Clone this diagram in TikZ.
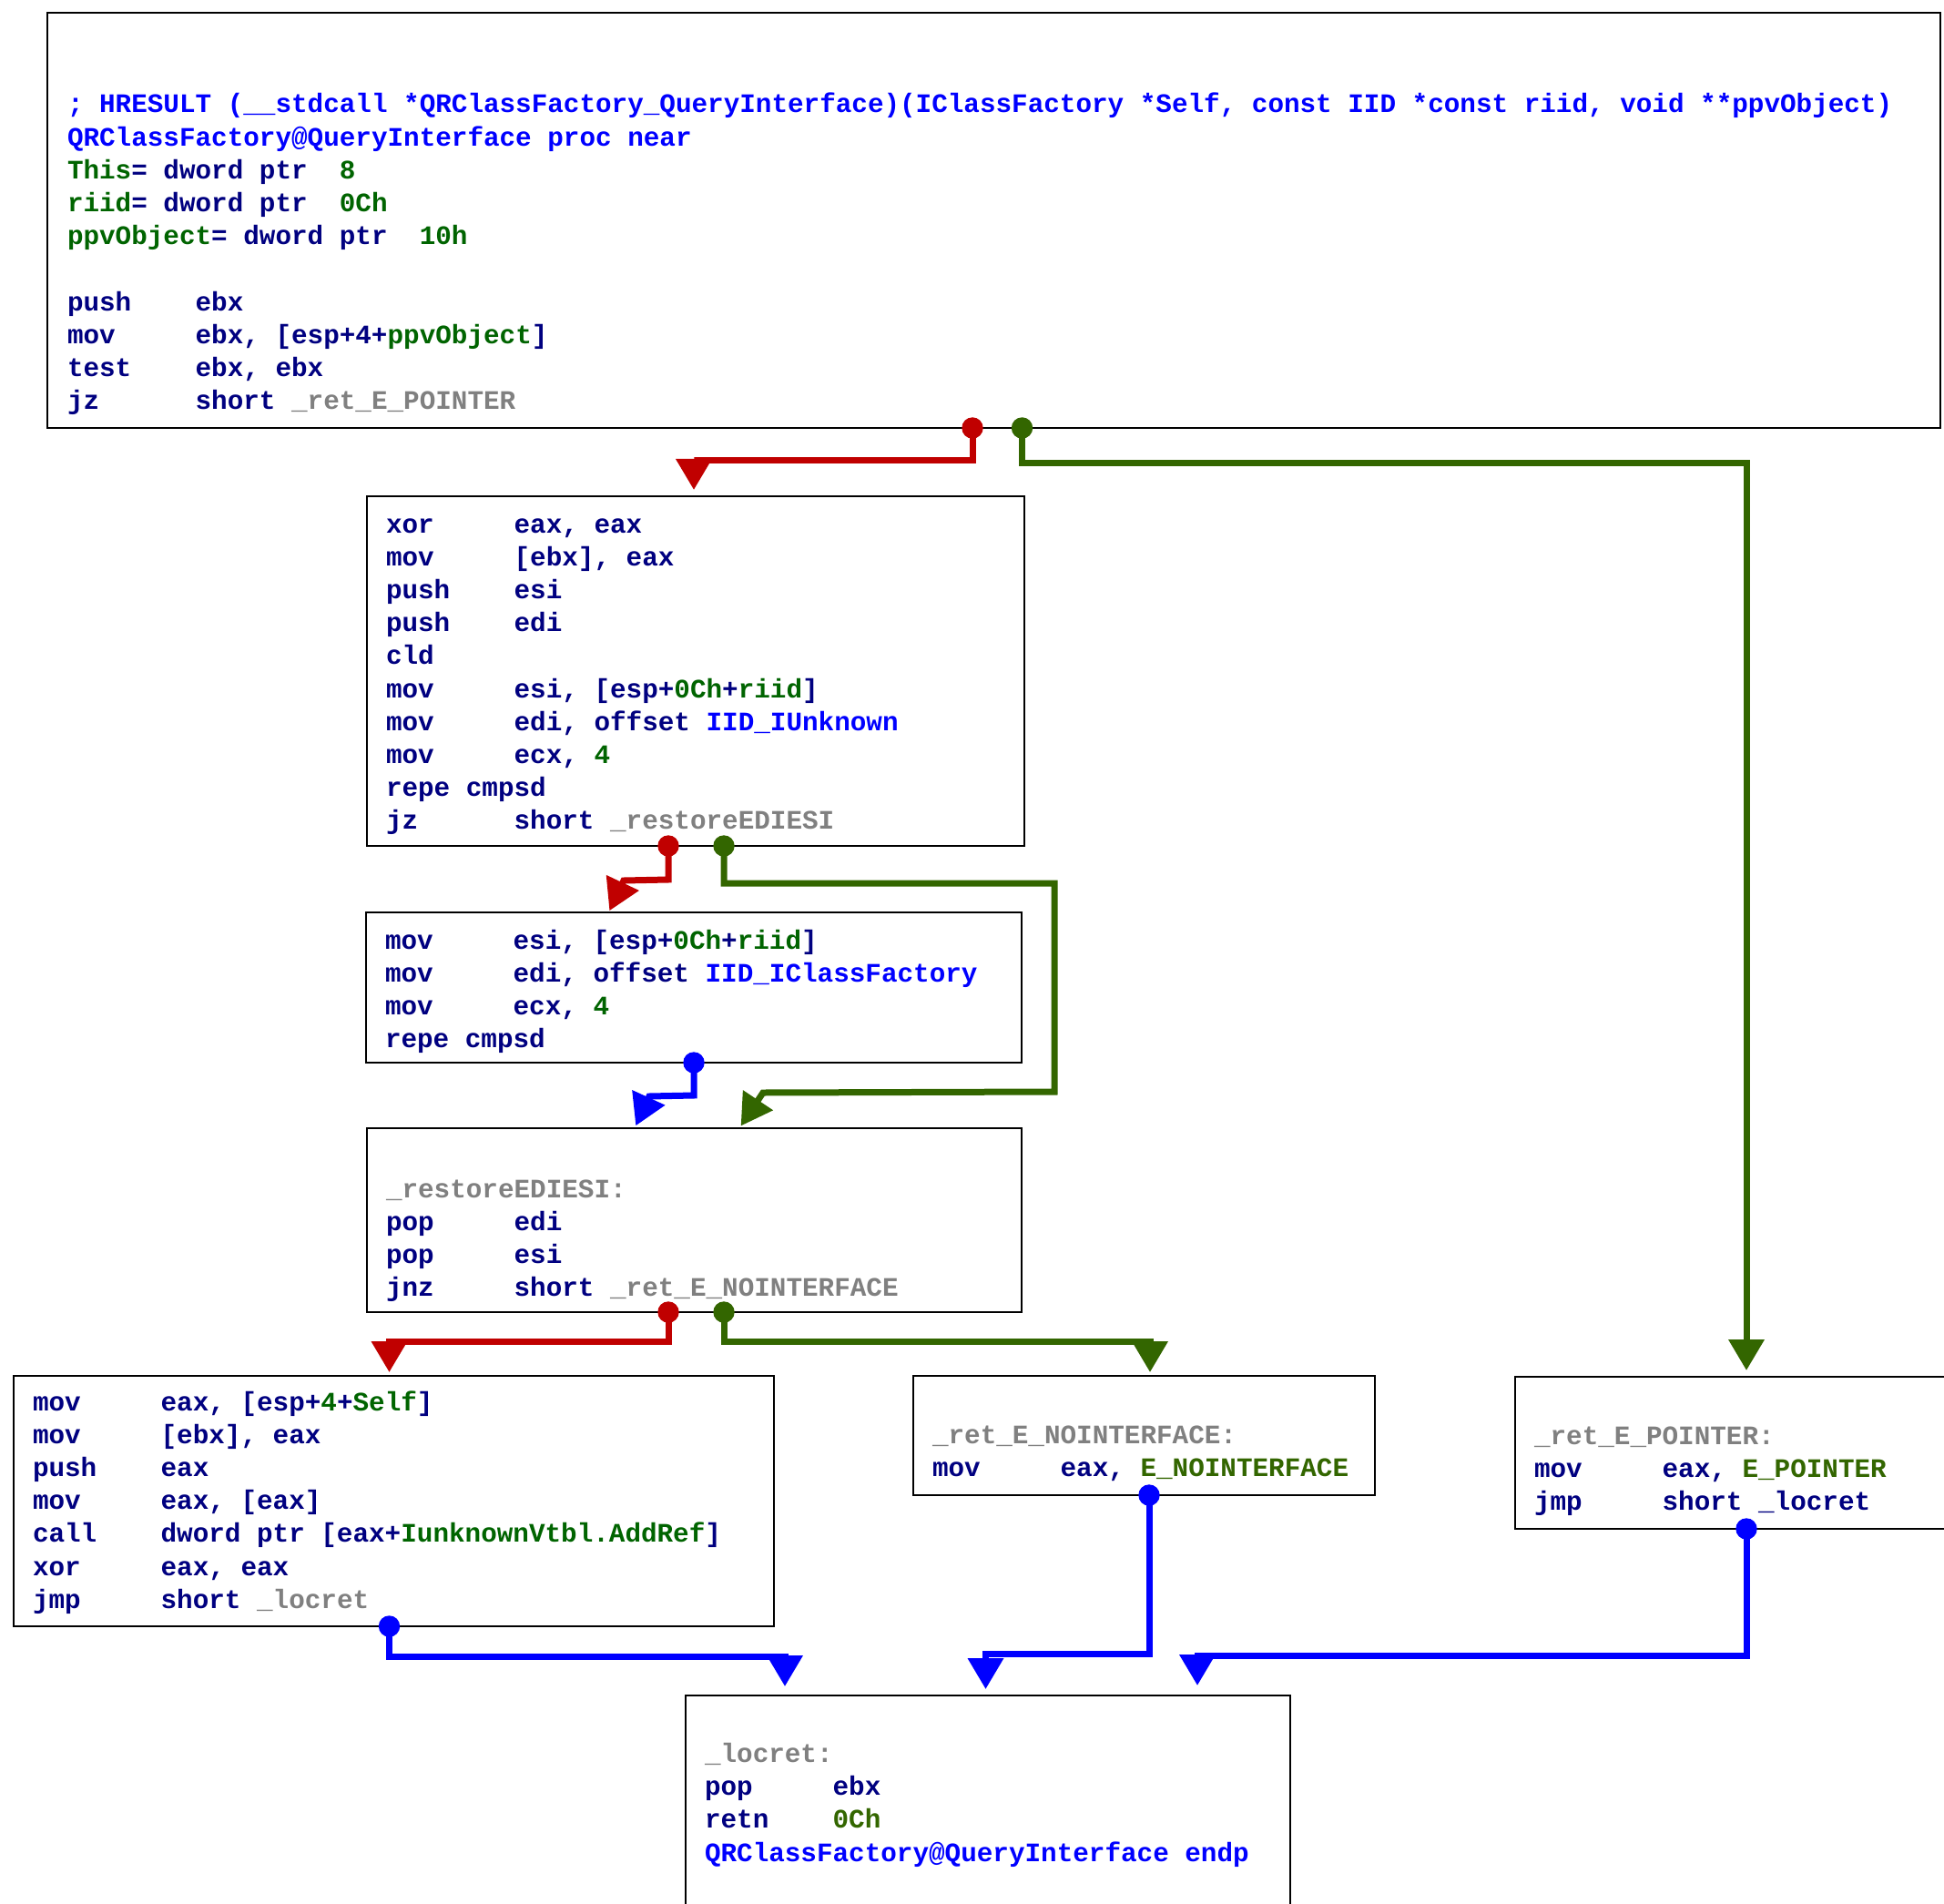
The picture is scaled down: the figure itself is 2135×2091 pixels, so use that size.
\documentclass[tikz,border=0pt]{standalone}
\usepackage{fontspec}
\setmonofont{Liberation Mono}
\usetikzlibrary{arrows.meta}
\definecolor{codenavy}{HTML}{000080}
\definecolor{codeblue}{HTML}{0000FF}
\definecolor{codegreen}{HTML}{006400}
\definecolor{codeolive}{HTML}{336600}
\definecolor{codegray}{HTML}{808080}
\definecolor{edgered}{HTML}{C00000}
\definecolor{edgegreen}{HTML}{336600}
\definecolor{edgeblue}{HTML}{0000FF}
\newcommand\codefont{\ttfamily\bfseries\fontsize{14.65pt}{18.1pt}\selectfont}
\newcommand\mn[1]{\makebox[70.32pt][l]{#1}}
\newcommand\G[1]{\textcolor{codegreen}{#1}}
\newcommand\OL[1]{\textcolor{codeolive}{#1}}
\newcommand\BL[1]{\textcolor{codeblue}{#1}}
\newcommand\GR[1]{\textcolor{codegray}{#1}}
\newcommand\codeblock[2]{\begin{minipage}[t]{#1}\codefont #2\end{minipage}}
\tikzset{
  box/.style={draw=black, line width=1pt, fill=white, inner sep=0pt, outer sep=0pt, anchor=north west},
  code/.style={anchor=base west, inner sep=0pt, outer sep=0pt, text=codenavy},
  edge/.style={draw=#1, line width=3.5pt, -{Triangle[length=17pt,width=19pt]}},
  dot/.style={fill=#1}
}
\begin{document}
\begin{tikzpicture}[x=0.5pt,y=-0.5pt]
\useasboundingbox (0,0) rectangle (2135,2091);
\clip (0,0) rectangle (2135,2091);

% boxes
\node[box, minimum width=1039.5pt, minimum height=228pt] (b1) at (52,14) {};
\node[box, minimum width=361pt, minimum height=192pt] (b2) at (403,545) {};
\node[box, minimum width=360pt, minimum height=82.5pt] (b3) at (402,1002) {};
\node[box, minimum width=359.5pt, minimum height=101pt] (b4) at (403,1239) {};
\node[box, minimum width=417.5pt, minimum height=137.5pt] (b5) at (15,1511) {};
\node[box, minimum width=253.5pt, minimum height=65.5pt] (b6) at (1003,1511) {};
\node[box, minimum width=260pt, minimum height=83.5pt] (b7) at (1664,1512) {};
\node[box, minimum width=332pt, minimum height=150pt] (b8) at (753,1862) {};

% texts
\node[code] (t1) at (74,124) {\codeblock{1045pt}{%
\BL{; HRESULT (\_\_stdcall *QRClassFactory\_QueryInterface)(IClassFactory *Self, const IID *const riid, void **ppvObject)}\\
\BL{QRClassFactory@QueryInterface proc near}\\
\G{This}= dword ptr~~\G{8}\\
\G{riid}= dword ptr~~\G{0Ch}\\
\G{ppvObject}= dword ptr~~\G{10h}\\
\mbox{}\\
\mn{push}ebx\\
\mn{mov}ebx, [esp+4+\G{ppvObject}]\\
\mn{test}ebx, ebx\\
\mn{jz}short \GR{\_ret\_E\_POINTER}}};

\node[code] (t2) at (424,585) {\codeblock{340pt}{%
\mn{xor}eax, eax\\
\mn{mov}[ebx], eax\\
\mn{push}esi\\
\mn{push}edi\\
cld\\
\mn{mov}esi, [esp+\G{0Ch}+\G{riid}]\\
\mn{mov}edi, offset \BL{IID\_IUnknown}\\
\mn{mov}ecx, \G{4}\\
repe cmpsd\\
\mn{jz}short \GR{\_restoreEDIESI}}};

\node[code] (t3) at (423,1042) {\codeblock{340pt}{%
\mn{mov}esi, [esp+\G{0Ch}+\G{riid}]\\
\mn{mov}edi, offset \BL{IID\_IClassFactory}\\
\mn{mov}ecx, \G{4}\\
repe cmpsd}};

\node[code] (t4) at (424,1315) {\codeblock{340pt}{%
\GR{\_restoreEDIESI:}\\
\mn{pop}edi\\
\mn{pop}esi\\
\mn{jnz}short \GR{\_ret\_E\_NOINTERFACE}}};

\node[code] (t5) at (36,1549) {\codeblock{400pt}{%
\mn{mov}eax, [esp+\G{4}+\G{Self}]\\
\mn{mov}[ebx], eax\\
\mn{push}eax\\
\mn{mov}eax, [eax]\\
\mn{call}dword ptr [eax+\G{IunknownVtbl.AddRef}]\\
\mn{xor}eax, eax\\
\mn{jmp}short \GR{\_locret}}};

\node[code] (t6) at (1024,1585) {\codeblock{240pt}{%
\GR{\_ret\_E\_NOINTERFACE:}\\
\mn{mov}eax, \OL{E\_NOINTERFACE}}};

\node[code] (t7) at (1685,1586) {\codeblock{230pt}{%
\GR{\_ret\_E\_POINTER:}\\
\mn{mov}eax, \OL{E\_POINTER}\\
\mn{jmp}short \_locret}};

\node[code] (t8) at (774,1935.5) {\codeblock{320pt}{%
\GR{\_locret:}\\
\mn{pop}ebx\\
\mn{retn}\OL{0Ch}\\
\BL{QRClassFactory@QueryInterface endp}}};

% connectors
\draw[edge=edgered, shorten >=3.5pt] (1068,0 |- b1.south) -- (1068,506) -| (762,0 |- b2.north);
\fill[dot=edgered] (1068,0 |- b1.south) circle[radius=5.85pt];

\draw[edge=edgegreen, shorten >=3.5pt] (1122.5,0 |- b1.south) -- (1122.5,508.5) -| (1918,0 |- b7.north);
\fill[dot=edgegreen] (1122.5,0 |- b1.south) circle[radius=5.85pt];

\draw[edge=edgered, shorten >=1pt] (734,0 |- b2.south) -- (734,966) -- (685,967) -- (668.5,0 |- b3.north);
\fill[dot=edgered] (734,0 |- b2.south) circle[radius=5.85pt];

\draw[edge=edgegreen, shorten >=1.5pt] (795,0 |- b2.south) -- (795,970) -- (1158,970) -- (1158,1199) -- (838,1200) -- (812,0 |- b4.north);
\fill[dot=edgegreen] (795,0 |- b2.south) circle[radius=5.85pt];

\draw[edge=edgeblue, shorten >=1.5pt] (762,0 |- b3.south) -- (762,1203) -- (713,1204) -- (697,0 |- b4.north);
\fill[dot=edgeblue] (762,0 |- b3.south) circle[radius=5.85pt];

\draw[edge=edgered, shorten >=2pt] (734,0 |- b4.south) -- (734,1473) -| (427.5,0 |- b5.north);
\fill[dot=edgered] (734,0 |- b4.south) circle[radius=5.85pt];

\draw[edge=edgegreen, shorten >=2pt] (795,0 |- b4.south) -- (795,1473) -| (1263,0 |- b6.north);
\fill[dot=edgegreen] (795,0 |- b4.south) circle[radius=5.85pt];

\draw[edge=edgeblue, shorten >=5pt] (427.5,0 |- b5.south) -- (427.5,1819) -| (862,0 |- b8.north);
\fill[dot=edgeblue] (427.5,0 |- b5.south) circle[radius=5.85pt];

\draw[edge=edgeblue, shorten >=3.5pt] (1262,0 |- b6.south) -- (1262,1816) -| (1082.5,0 |- b8.north);
\fill[dot=edgeblue] (1262,0 |- b6.south) circle[radius=5.85pt];

\draw[edge=edgeblue, shorten >=5.5pt] (1918,0 |- b7.south) -- (1918,1818) -| (1315,0 |- b8.north);
\fill[dot=edgeblue] (1918,0 |- b7.south) circle[radius=5.85pt];
\end{tikzpicture}
\end{document}
